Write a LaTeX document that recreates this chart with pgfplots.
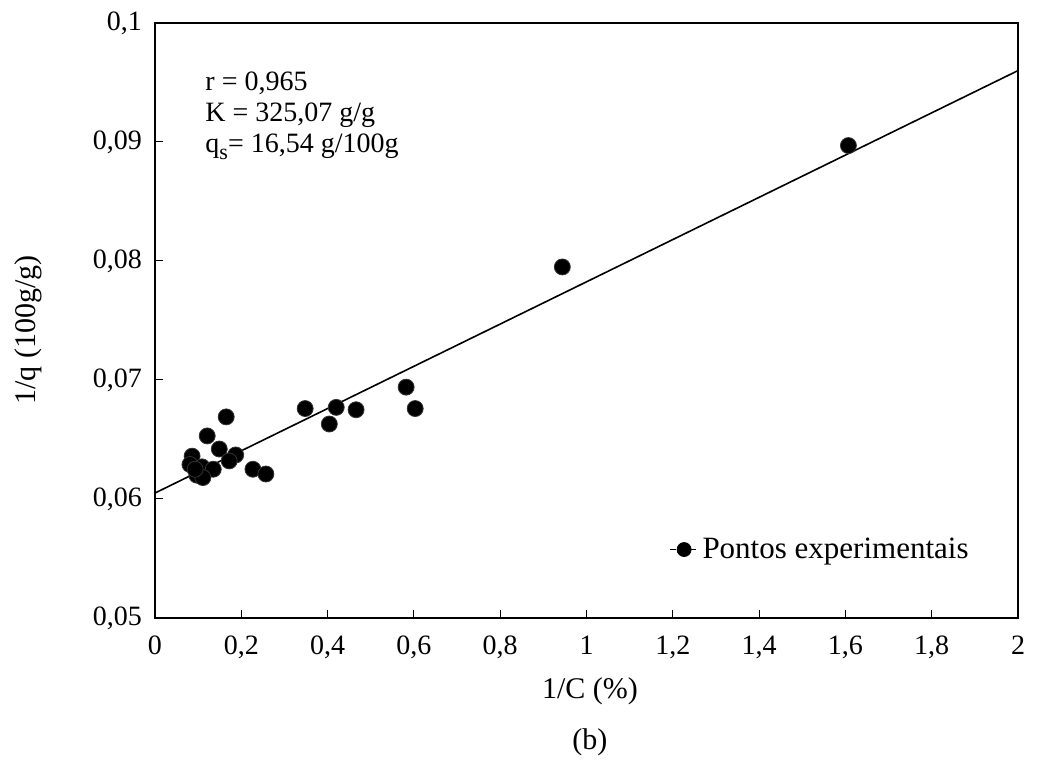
\documentclass[border=0pt]{standalone}
\usepackage{pgfplots}
\pgfplotsset{compat=1.18}
\usepackage{fontspec}
\setmainfont{Liberation Serif}
\begin{document}
\begin{tikzpicture}
\path[use as bounding box] (0,0) rectangle (527.5pt,389.5pt);
\begin{axis}[
  at={(77.5pt,80.5pt)}, anchor=south west,
  scale only axis, width=431.5pt, height=297.5pt,
  clip=false,
  xmin=0, xmax=2, ymin=0.05, ymax=0.1,
  xtick={0,0.2,...,2.01}, ytick={0.05,0.06,...,0.101},
  axis line style={line width=1pt},
  tick align=inside, major tick length=4pt,
  tick style={black, line width=0.5pt},
  xtick pos=bottom, ytick pos=left,
  /pgf/number format/assume math mode=true,
  /pgf/number format/use comma,
  /pgf/number format/1000 sep={},
  xticklabel={\pgfmathprintnumber[fixed,precision=1]{\tick}},
  yticklabel={\pgfmathprintnumber[fixed,precision=2]{\tick}},
  scaled ticks=false,
  ticklabel style={font=\fontsize{14}{16}\selectfont},
  xticklabel style={yshift=-5.5pt},
  yticklabel style={xshift=-3pt},
  xlabel={1/C (\%)},
  xlabel style={at={(axis description cs:0.504,0)}, anchor=center, yshift=-36.5pt, font=\fontsize{15}{17}\selectfont},
  ylabel={1/q (100g/g)},
  ylabel style={at={(axis description cs:0,0.484)}, anchor=center, yshift=63.5pt, font=\fontsize{15}{17}\selectfont},
  legend style={draw=none, fill=none, at={(axis description cs:0.589,0.115)}, anchor=west, font=\fontsize{15.5}{17}\selectfont},
  legend cell align=left,
  legend image code/.code={
    \draw[black, densely dashed, line width=0.4pt] (0pt,0pt) -- (14pt,0pt);
    \fill[black] (7pt,0pt) circle (3.5pt);
  },
]
\addplot[only marks, mark=*, mark size=4pt, mark options={fill=black, draw=black!80}] coordinates {
(1.607,0.0897) (0.944,0.0795)
(0.582,0.0694) (0.603,0.0676) (0.466,0.0675) (0.420,0.0677) (0.404,0.0663) (0.348,0.0676)
(0.165,0.0669) (0.121,0.0653) (0.149,0.0642) (0.187,0.0637) (0.172,0.0632)
(0.227,0.0625) (0.257,0.0621)
(0.086,0.0636) (0.081,0.0629) (0.109,0.0627) (0.135,0.0625) (0.097,0.0620) (0.111,0.0618) (0.093,0.0625)
};
\addlegendentry{Pontos experimentais}
\addplot[black, line width=0.8pt, forget plot] coordinates {(0,0.0605) (2,0.0960)};
\node[anchor=north west, align=left, font=\fontsize{14}{15.5}\selectfont, inner sep=0pt] at (axis description cs:0.058,0.918)
  {r = 0,965\\K = 325,07 g/g\\q\raisebox{-3.5pt}{\fontsize{11}{11}\selectfont s}= 16,54 g/100g};
\node[font=\fontsize{15}{17}\selectfont] at (axis description cs:0.504,0) [yshift=-62pt] {(b)};
\end{axis}
\end{tikzpicture}
\end{document}
